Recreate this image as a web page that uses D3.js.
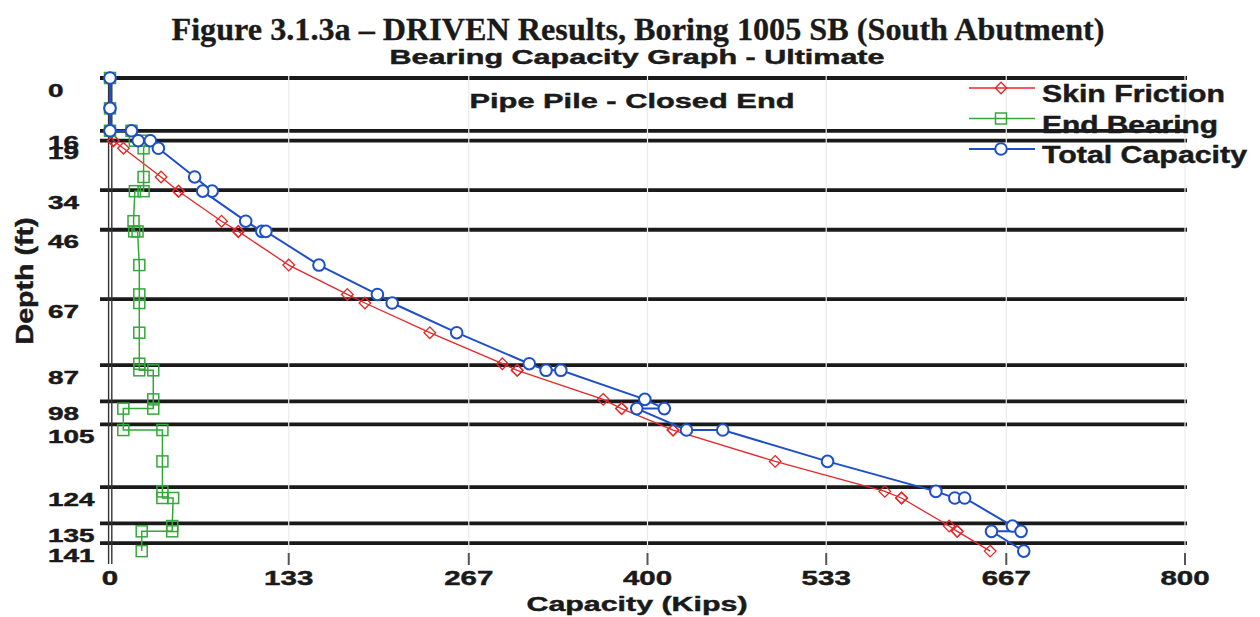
<!DOCTYPE html>
<html>
<head>
<meta charset="utf-8">
<script src="https://cdn.jsdelivr.net/npm/d3@7"></script>
<style>
  body { margin: 0; background: #fff; }
  text { font-family: "Liberation Sans", Arial, sans-serif; font-weight: bold; fill: #1a1a1a; stroke: #1a1a1a; stroke-width: 0.45px; }
</style>
</head>
<body>
<svg class="chart"></svg>
<script>
// depth rows (ft)
const depths = [0, 9.2, 16, 16, 19, 19, 21.3, 30, 34.3, 34.3, 43.4, 46.5, 46.5, 56.7, 65.6, 68.2,
    77.2, 86.6, 88.6, 88.6, 97.4, 100.2, 100.2, 106.7, 106.7, 116.2, 125.3, 127.3, 127.3,
    135.8, 137.4, 137.4, 143.4];
// capacities (kips)
const skinFriction = [0, 0, 0, 0, 2.5, 2.5, 10, 38, 51, 51, 83, 95.5, 95.5, 133, 176.6, 189.7,
    238, 292, 303, 303, 367, 380.7, 380.7, 419, 419, 495, 576.6, 589, 589,
    624.5, 630.5, 630.5, 655];
const endBearing = [0, 0, 0, 16, 18.5, 27.5, 25, 25, 25, 18.5, 17.5, 18, 20.5, 21.8, 21.8, 21.8,
    21.8, 21.8, 21.8, 32.2, 32.2, 32.2, 9.9, 9.9, 39, 39, 39, 39, 47,
    46.3, 46.3, 23.6, 23.6];
const totalCapacity = [0, 0, 0, 16, 21, 30, 36, 63, 76, 69, 101, 113, 116, 155.5, 199, 210,
    258, 312, 324.5, 335.5, 398, 412.5, 392, 429, 456, 534, 614.6, 628.7, 636,
    671.6, 678, 656, 680];

// layer boundaries shown as the depth tick labels
const layerDepths = [0, 16, 19, 34, 46, 67, 87, 98, 105, 124, 135, 141];
const xTicks = [0, 133, 267, 400, 533, 667, 800];

const width = 1260, height = 617;
const svg = d3.select('.chart').attr('width', width).attr('height', height);

const x = d3.scaleLinear().domain([0, 800]).range([110, 1185]);
const y = d3.scaleLinear().domain([0, 147]).range([78, 563]);

// titles
svg.append('text')
    .attr('x', 638).attr('y', 40)
    .attr('text-anchor', 'middle')
    .style('font-family', '"Liberation Serif", "Times New Roman", serif')
    .style('font-size', '32px')
    .style('stroke-width', '0.3px')
    .attr('textLength', 933).attr('lengthAdjust', 'spacingAndGlyphs')
    .text('Figure 3.1.3a – DRIVEN Results, Boring 1005 SB (South Abutment)');

svg.append('text')
    .attr('x', 637).attr('y', 64)
    .attr('text-anchor', 'middle')
    .style('font-size', '20px')
    .attr('textLength', 495).attr('lengthAdjust', 'spacingAndGlyphs')
    .text('Bearing Capacity Graph - Ultimate');

svg.append('text')
    .attr('x', 632).attr('y', 108)
    .attr('text-anchor', 'middle')
    .style('font-size', '21px')
    .attr('textLength', 325).attr('lengthAdjust', 'spacingAndGlyphs')
    .text('Pipe Pile - Closed End');

// layer lines
svg.append('g').selectAll('line')
    .data(layerDepths)
    .join('line')
    .attr('x1', 100).attr('x2', 1187)
    .attr('y1', d => y(d)).attr('y2', d => y(d))
    .attr('stroke', '#1a1a1a')
    .attr('stroke-width', 3.8);

// faint vertical grid, drawn over the layer lines like the original
svg.append('g').selectAll('line')
    .data(xTicks.slice(1))
    .join('line')
    .attr('x1', d => x(d)).attr('x2', d => x(d))
    .attr('y1', y(0) - 2).attr('y2', 553)
    .attr('stroke', '#ebebeb')
    .attr('stroke-width', 1.2);

svg.append('g').selectAll('line')
    .data(xTicks.slice(1))
    .join('line')
    .attr('x1', d => x(d)).attr('x2', d => x(d))
    .attr('y1', 553).attr('y2', 565)
    .attr('stroke', '#555')
    .attr('stroke-width', 2);

// double left axis line
[108.6, 111.8].forEach(px => {
    svg.append('line')
        .attr('x1', px).attr('x2', px)
        .attr('y1', y(0)).attr('y2', 564)
        .attr('stroke', '#333')
        .attr('stroke-width', 1.4);
});

// tick labels
svg.append('g').selectAll('text')
    .data(layerDepths)
    .join('text')
    .attr('x', 48)
    .attr('y', d => y(d) + 18.5)
    .style('font-size', '18px')
    .attr('textLength', d => 15.5 * String(d).length)
    .attr('lengthAdjust', 'spacingAndGlyphs')
    .text(d => d);

svg.append('g').selectAll('text')
    .data(xTicks)
    .join('text')
    .attr('x', d => x(d))
    .attr('y', 585)
    .attr('text-anchor', 'middle')
    .style('font-size', '21px')
    .attr('textLength', d => 16.4 * String(d).length)
    .attr('lengthAdjust', 'spacingAndGlyphs')
    .text(d => d);

// axis titles
svg.append('text')
    .attr('x', 637).attr('y', 611)
    .attr('text-anchor', 'middle')
    .style('font-size', '21px')
    .attr('textLength', 221).attr('lengthAdjust', 'spacingAndGlyphs')
    .text('Capacity (Kips)');

svg.append('text')
    .attr('transform', 'translate(33,281) rotate(-90)')
    .attr('text-anchor', 'middle')
    .style('font-size', '23px')
    .attr('textLength', 127).attr('lengthAdjust', 'spacingAndGlyphs')
    .text('Depth (ft)');

// series
const series = [
    { name: 'Skin Friction', values: skinFriction, color: '#e8262a', shape: 'diamond', width: 1.3 },
    { name: 'End Bearing', values: endBearing, color: '#35a83a', shape: 'square', width: 1.5 },
    { name: 'Total Capacity', values: totalCapacity, color: '#1f4fc8', shape: 'circle', width: 2 }
];

function marker(sel, s) {
    if (s.shape === 'circle') {
        sel.append('circle').attr('r', 5.8)
            .attr('fill', '#fff').attr('stroke', s.color).attr('stroke-width', 2);
    } else if (s.shape === 'square') {
        sel.append('rect').attr('x', -5.5).attr('y', -5.5).attr('width', 11).attr('height', 11)
            .attr('fill', 'none').attr('stroke', s.color).attr('stroke-width', 1.5);
    } else {
        sel.append('path').attr('d', 'M0,-5.8L5.8,0L0,5.8L-5.8,0Z')
            .attr('fill', 'none').attr('stroke', s.color).attr('stroke-width', 1.3);
    }
}

series.forEach(s => {
    let pts = s.values.map((v, i) => ({ value: v, depth: depths[i] }));
    let line = d3.line()
        .x(d => x(d.value))
        .y(d => y(d.depth));

    let g = svg.append('g');
    g.append('path')
        .datum(pts)
        .attr('fill', 'none')
        .attr('stroke', s.color)
        .attr('stroke-width', s.width)
        .attr('d', line);

    g.selectAll('g.pt')
        .data(pts)
        .join('g')
        .attr('class', 'pt')
        .attr('transform', d => 'translate(' + x(d.value) + ',' + y(d.depth) + ')')
        .each(function () { marker(d3.select(this), s); });
});

// legend
let legend = svg.append('g');
series.forEach((s, i) => {
    let ly = 88 + i * 30.5;
    legend.append('line')
        .attr('x1', 969).attr('x2', 1035)
        .attr('y1', ly).attr('y2', ly)
        .attr('stroke', s.color).attr('stroke-width', s.width);
    let m = legend.append('g').attr('transform', 'translate(1001,' + ly + ')');
    marker(m, s);
    legend.append('text')
        .attr('x', 1042).attr('y', ly + 14)
        .style('font-size', '23px')
        .attr('textLength', [183, 176, 205][i]).attr('lengthAdjust', 'spacingAndGlyphs')
        .text(s.name);
});
</script>
</body>
</html>
